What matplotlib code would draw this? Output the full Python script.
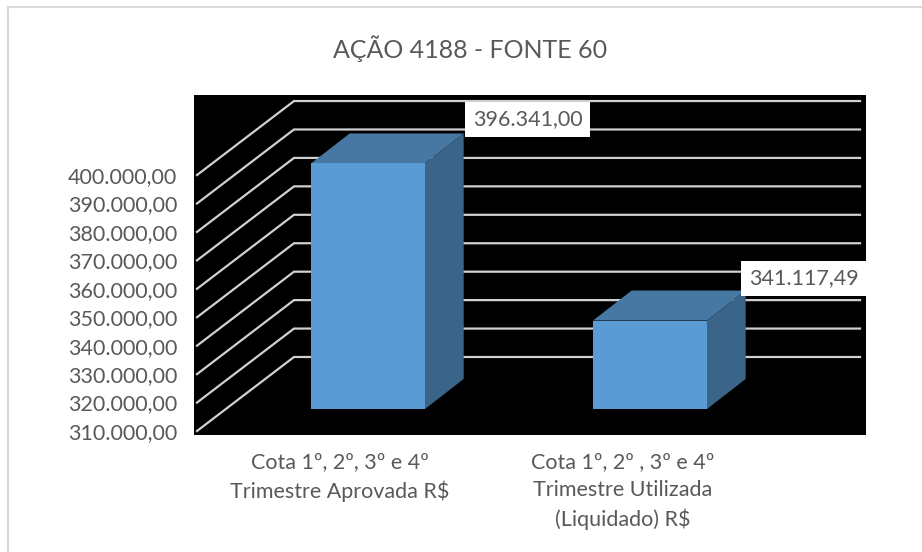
import matplotlib
matplotlib.use("Agg")
import matplotlib.pyplot as plt
from matplotlib.lines import Line2D
from matplotlib.patches import Polygon

plt.rcParams['font.family'] = ['Lato', 'DejaVu Sans']

title = "AÇÃO 4188 - FONTE 60"
categories = ["Cota 1º, 2º, 3º e 4º\nTrimestre Aprovada R$",
              "Cota 1º, 2º , 3º e 4º\nTrimestre Utilizada\n(Liquidado) R$"]
values = [396341.00, 341117.49]
value_labels = ["396.341,00", "341.117,49"]
y_ticks = [310000, 320000, 330000, 340000, 350000, 360000, 370000, 380000, 390000, 400000]

W, H = 922, 552
TEXT = '#595959'
GRID = '#d0d0d0'
FRONT = '#5b9bd5'
TOP = '#4777a3'
SIDE = '#3a6488'
FS = 15.5

# scale: px per unit on both axes
px_per_cat = 282.0
px_per_val = 28.44 / 10000

# black plot area in pixels
left, right, top, bottom = 194, 866, 95, 435
fig = plt.figure(figsize=(W / 100, H / 100), dpi=100)
ax = fig.add_axes([left / W, 1 - bottom / H, (right - left) / W, (bottom - top) / H])
ax.set_facecolor('black')
for s in ax.spines.values():
    s.set_visible(False)

# category 0 front face centre sits at pixel 368
ax.set_xlim((left - 368) / px_per_cat, (right - 368) / px_per_cat)
ax.set_ylim(310000 - (bottom - 431) / px_per_val, 310000 + (431 - top) / px_per_val)


def to_x(px):
    return (px - 368) / px_per_cat


# floor/wall depth
wall_dx = 97 / px_per_cat
wall_dy = 74 / px_per_val
grid_x0 = to_x(197)
grid_x1 = to_x(860)
for v in y_ticks:
    ax.plot([grid_x0, grid_x0 + wall_dx, grid_x1], [v, v + wall_dy, v + wall_dy],
            color=GRID, lw=1.6, solid_joinstyle='miter', zorder=1)

# bars, offset into the floor
bar_w = 114 / px_per_cat
off_y = 22 / px_per_val
side_dx = 38.7 / px_per_cat
side_dy = 30 / px_per_val
base = 310000
for i, v in enumerate(values):
    x0 = i - bar_w / 2
    x1 = i + bar_w / 2
    y0 = base + off_y
    y1 = v + off_y
    ax.add_patch(Polygon([(x0, y1), (x1, y1), (x1 + side_dx, y1 + side_dy), (x0 + side_dx, y1 + side_dy)],
                         fc=TOP, ec='none', zorder=3))
    ax.add_patch(Polygon([(x1, y0), (x1 + side_dx, y0 + side_dy), (x1 + side_dx, y1 + side_dy), (x1, y1)],
                         fc=SIDE, ec='none', zorder=3))
    ax.add_patch(Polygon([(x0, y0), (x1, y0), (x1, y1), (x0, y1)],
                         fc=FRONT, ec='none', zorder=4))

# data labels
label_off = [(64, 14), (58, 12)]
for i, v in enumerate(values):
    ax.annotate(value_labels[i],
                xy=(i + bar_w / 2 + side_dx, v + off_y + side_dy),
                xytext=(label_off[i][0] * 0.72, label_off[i][1] * 0.72),
                textcoords='offset points', ha='center', va='center',
                fontsize=FS, color=TEXT, zorder=6, annotation_clip=False,
                bbox=dict(boxstyle='square,pad=0.36', fc='white', ec='none'))

fmt = [f"{v:,.2f}".replace(",", "X").replace(".", ",").replace("X", ".") for v in y_ticks]
ax.set_yticks(y_ticks, fmt)
ax.tick_params(axis='y', length=0, pad=12, labelsize=FS, labelcolor=TEXT)
ax.set_xticks([0 - 28 / px_per_cat, 1 - 27 / px_per_cat], categories)
ax.tick_params(axis='x', length=0, pad=12, labelsize=FS, labelcolor=TEXT)
for lab in ax.get_xticklabels():
    lab.set_linespacing(1.5)

fig.text(470 / W, 1 - 49 / H, title, ha='center', va='center', fontsize=18, color=TEXT)

# outer frame only shows on the left and top
fig.add_artist(Line2D([7.5 / W, 7.5 / W], [0, 1 - 6.5 / H], color='#d9d9d9', lw=1.5))
fig.add_artist(Line2D([7.5 / W, 1], [1 - 6.5 / H, 1 - 6.5 / H], color='#d9d9d9', lw=1.5))

fig.savefig("out.png", dpi=100)
